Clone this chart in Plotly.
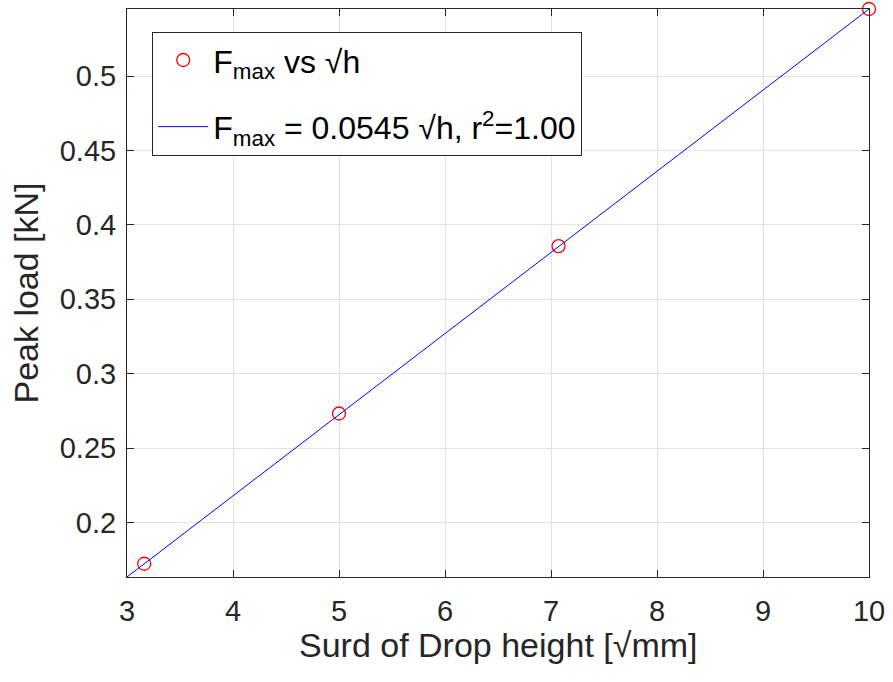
import plotly.graph_objects as go

# Data
sqrt_h = [3.1623, 5.0, 7.0711, 10.0]
peak_load = [0.1724, 0.2733, 0.3857, 0.5450]
fit_x = [3.0, 10.0]
fit_y = [0.1635, 0.5450]
x_ticks = [3, 4, 5, 6, 7, 8, 9, 10]
y_ticks = [0.2, 0.25, 0.3, 0.35, 0.4, 0.45, 0.5]
y_tick_labels = ["0.2", "0.25", "0.3", "0.35", "0.4", "0.45", "0.5"]
x_title = "Surd of Drop height [√mm]"
y_title = "Peak load [kN]"

FONT = "Liberation Sans, Arial, Helvetica, sans-serif"
TXT = "#262626"

fig = go.Figure()
fig.add_trace(go.Scatter(
    x=sqrt_h, y=peak_load, mode="markers",
    name="F<sub>max</sub> vs √h", legendgroup="a",
    marker=dict(symbol="circle-open", size=13, color="#ff0000", line=dict(width=1.3, color="#ff0000")),
    cliponaxis=False,
))
fig.add_trace(go.Scatter(
    x=fit_x, y=fit_y, mode="lines",
    name="F<sub>max</sub> = 0.0545 √h, r<sup>2</sup>=1.00", legendgroup="b",
    line=dict(color="#0000ff", width=1),
))

axis_common = dict(
    showline=True, linecolor=TXT, linewidth=1, mirror="ticks",
    ticks="inside", ticklen=7, tickcolor=TXT, tickwidth=1,
    showgrid=True, gridcolor="#e3e3e3", gridwidth=1, zeroline=False,
    tickfont=dict(family=FONT, size=29, color=TXT),
)

fig.update_xaxes(range=[3, 10], tickvals=x_ticks, ticklabelstandoff=8, **axis_common)
fig.update_yaxes(range=[0.1635, 0.545], tickvals=y_ticks, ticktext=y_tick_labels, ticklabelstandoff=4,
                 title=dict(text=y_title, font=dict(family=FONT, size=34, color=TXT), standoff=10),
                 **axis_common)

fig.add_annotation(
    text=x_title, xref="paper", yref="paper", x=0.5, y=-0.12,
    xanchor="center", yanchor="middle", showarrow=False, borderpad=0,
    font=dict(family=FONT, size=34, color=TXT),
)

fig.update_layout(
    width=893, height=682,
    margin=dict(l=127, r=19, t=8, b=105),
    paper_bgcolor="white", plot_bgcolor="white",
    font=dict(family=FONT, size=32, color="black"),
    legend=dict(
        x=0.034, y=0.96, xanchor="left", yanchor="top",
        bgcolor="white", bordercolor=TXT, borderwidth=1,
        font=dict(family=FONT, size=32, color="black"),
        itemwidth=50, tracegroupgap=22,
    ),
    showlegend=True,
)

fig.write_html("out.html")
